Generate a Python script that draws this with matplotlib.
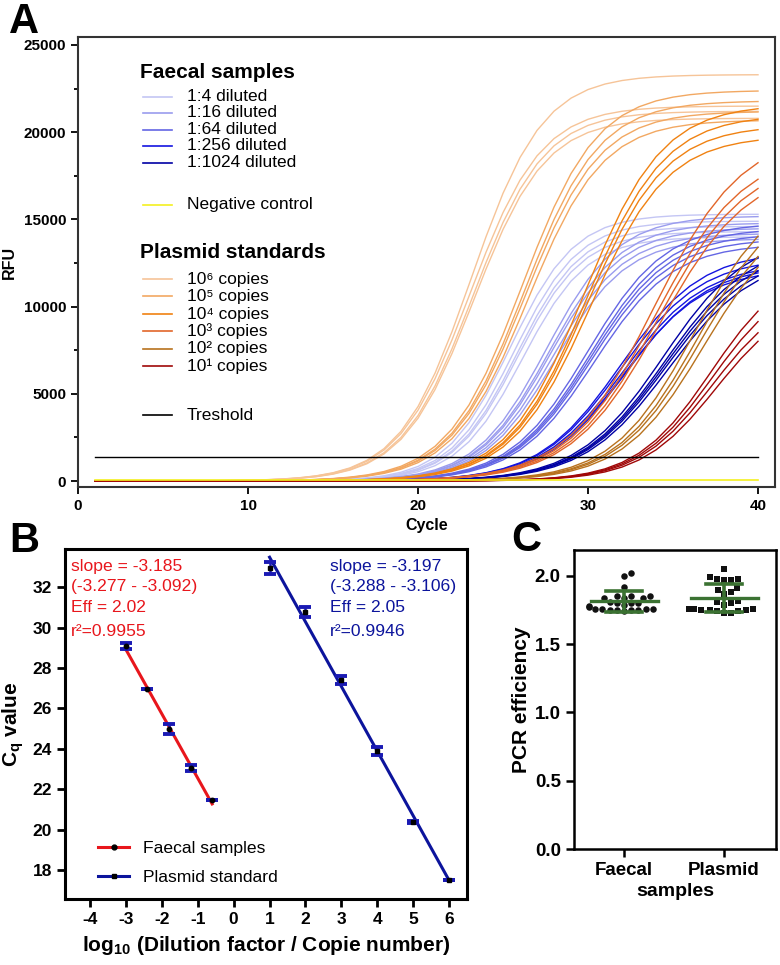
import numpy as np
import matplotlib
matplotlib.use("Agg")
import matplotlib.pyplot as plt
from matplotlib.lines import Line2D

plt.rcParams['font.family'] = ['Liberation Sans', 'DejaVu Sans']
plt.rcParams['mathtext.fontset'] = 'custom'
plt.rcParams['mathtext.rm'] = 'Liberation Sans'
plt.rcParams['mathtext.bf'] = 'Liberation Sans:bold'
plt.rcParams['mathtext.it'] = 'Liberation Sans:italic'
plt.rcParams['axes.unicode_minus'] = False

# ------------------ PANEL A DATA (amplification curves) ------------------
cycles = np.arange(1, 41)
threshold = 1360
neg_level = 30

faecal_labels = ["1:4 diluted", "1:16 diluted", "1:64 diluted", "1:256 diluted", "1:1024 diluted"]
faecal_colors = ["#c4c6f4", "#9a9cee", "#6466e4", "#1414e0", "#0000a4"]
# threshold cycle and plateau of each well
faecal_cq = [[21.0, 21.3, 21.5, 21.6, 21.9],
             [22.7, 22.9, 23.0, 23.2, 23.4],
             [24.7, 24.9, 25.0, 25.1, 25.3],
             [26.7, 26.8, 27.0, 27.1, 27.2],
             [28.8, 29.0, 29.1, 29.2, 29.4]]
faecal_plateau = [[15300, 14900, 14600, 14300, 14000],
                  [15200, 14800, 14500, 14200, 13900],
                  [14800, 14500, 14200, 13900, 13600],
                  [13200, 12800, 12500, 12200, 12400],
                  [14200, 13700, 13400, 13100, 12900]]
faecal_k = [1.9, 2.1, 2.3, 2.4, 2.5]

plasmid_labels = ["10⁶ copies", "10⁵ copies", "10⁴ copies",
                  "10³ copies", "10² copies", "10¹ copies"]
plasmid_colors = ["#f6c498", "#f2a862", "#f08212", "#e2662a", "#b8721e", "#a00808"]
plasmid_cq = [[17.3, 17.4, 17.6, 17.7],
              [20.1, 20.3, 20.4, 20.6],
              [23.6, 23.8, 23.9, 24.1],
              [27.1, 27.3, 27.5, 27.7],
              [30.4, 30.7, 30.9, 31.2],
              [32.6, 32.8, 33.0, 33.3]]
plasmid_plateau = [[23300, 21500, 21200, 20800],
                   [22400, 21800, 21200, 20700],
                   [21600, 21000, 20400, 19800],
                   [20000, 19000, 18500, 18000],
                   [17000, 16500, 16000, 15500],
                   [12500, 11800, 11000, 10600]]
plasmid_k = [2.1, 2.2, 2.3, 2.6, 2.4, 2.2]

# ------------------ PANEL B DATA (standard curves) ------------------
faecal_logdil = [-3.01, -2.41, -1.81, -1.2, -0.6]
faecal_cq_mean = [29.1, 26.95, 25.0, 23.05, 21.45]
faecal_cq_sd = [0.15, 0.0, 0.25, 0.15, 0.0]
plasmid_logcopies = [1, 2, 3, 4, 5, 6]
plasmid_cq_mean = [32.95, 30.8, 27.41, 23.9, 20.38, 17.5]
plasmid_cq_sd = [0.3, 0.25, 0.2, 0.2, 0.05, 0.0]
faecal_stats = ["slope = -3.185", "(-3.277 - -3.092)", "Eff = 2.02", "r²=0.9955"]
plasmid_stats = ["slope = -3.197", "(-3.288 - -3.106)", "Eff = 2.05", "r²=0.9946"]

# ------------------ PANEL C DATA (efficiencies) ------------------
eff_groups = ["Faecal", "Plasmid"]
faecal_eff = [2.02, 2.00, 1.92, 1.85, 1.84, 1.85, 1.84, 1.84, 1.85, 1.80, 1.81, 1.80, 1.80,
              1.79, 1.76, 1.75, 1.76, 1.75, 1.75, 1.76, 1.74, 1.75, 1.76, 1.78, 1.77]
plasmid_eff = [2.05, 1.99, 1.98, 1.97, 1.98, 1.97, 1.91, 1.90, 1.88, 1.87, 1.82, 1.79,
               1.80, 1.81, 1.76, 1.75, 1.75, 1.74, 1.75, 1.74, 1.76, 1.76, 1.73, 1.73]

RED = "#e8161c"
NAVY = "#0c149c"
GREEN = "#3b7232"


def amp_curve(cq, fmax, k):
    c0 = cq + k * np.log(fmax / threshold - 1)
    return fmax / (1 + np.exp(-(cycles - c0) / k))


def bold_ticks(ax, size):
    ax.tick_params(labelsize=size)
    for t in ax.get_xticklabels() + ax.get_yticklabels():
        t.set_fontweight('bold')


def swarm(values, xd, yd):
    # simple beeswarm: put each point at the nearest free slot
    order = np.argsort(values)
    placed = []
    offs = np.zeros(len(values))
    cands = [0.0]
    for s in range(1, 30):
        cands += [s * 0.012, -s * 0.012]
    for i in order:
        v = values[i]
        for c in cands:
            if all(((c - px) / xd) ** 2 + ((v - py) / yd) ** 2 >= 1 for px, py in placed):
                break
        placed.append((c, v))
        offs[i] = c
    return offs


fig = plt.figure(figsize=(7.8, 9.65), dpi=100)

# ======================= A =======================
axA = fig.add_axes([0.1, 0.4953, 0.8936, 0.4664])
for grp in range(len(faecal_cq)):
    for cq, fm in zip(faecal_cq[grp], faecal_plateau[grp]):
        axA.plot(cycles, amp_curve(cq, fm, faecal_k[grp]), color=faecal_colors[grp], lw=1.0)
for grp in range(len(plasmid_cq)):
    for cq, fm in zip(plasmid_cq[grp], plasmid_plateau[grp]):
        axA.plot(cycles, amp_curve(cq, fm, plasmid_k[grp]), color=plasmid_colors[grp], lw=1.0)
axA.plot(cycles, np.full(len(cycles), neg_level), color="#f4f020", lw=1.2)
axA.plot(cycles, np.full(len(cycles), threshold), color="black", lw=1.0)

axA.set_xlim(0, 41)
axA.set_ylim(-345, 25460)
axA.set_xticks([0, 10, 20, 30, 40])
axA.set_yticks(range(0, 25001, 5000))
axA.set_yticks(range(0, 25001, 2500), minor=True)
axA.tick_params(which='both', direction='out', width=1.3, length=5)
axA.tick_params(which='minor', length=3)
bold_ticks(axA, 11)
for sp in axA.spines.values():
    sp.set_linewidth(1.5)
    sp.set_color("#333333")
axA.set_xlabel("Cycle", fontsize=11.5, fontweight='bold', labelpad=4)
axA.set_ylabel("RFU", fontsize=11.5, fontweight='bold')
axA.yaxis.set_label_coords(-0.087, 0.5)

# custom legend
tr = axA.transAxes
hx = [0.0933, 0.135]
tx = 0.156
axA.text(0.089, 0.922, "Faecal samples", transform=tr, fontsize=15, fontweight='bold', va='center')
for lab, col, yy in zip(faecal_labels, faecal_colors, [0.8667, 0.8311, 0.7933, 0.7578, 0.72]):
    axA.plot(hx, [yy, yy], color=col, lw=1.2, transform=tr)
    axA.text(tx, yy, lab, transform=tr, fontsize=12.5, va='center')
axA.plot(hx, [0.6267, 0.6267], color="#f4f020", lw=1.2, transform=tr)
axA.text(tx, 0.6267, "Negative control", transform=tr, fontsize=12.5, va='center')
axA.text(0.089, 0.5222, "Plasmid standards", transform=tr, fontsize=15, fontweight='bold', va='center')
for lab, col, yy in zip(plasmid_labels, plasmid_colors, [0.4622, 0.4244, 0.3844, 0.3467, 0.3067, 0.2689]):
    axA.plot(hx, [yy, yy], color=col, lw=1.2, transform=tr)
    axA.text(tx, yy, lab, transform=tr, fontsize=12.5, va='center')
axA.plot(hx, [0.16, 0.16], color="black", lw=1.2, transform=tr)
axA.text(tx, 0.16, "Treshold", transform=tr, fontsize=12.5, va='center')

# ======================= B =======================
axB = fig.add_axes([0.0833, 0.0684, 0.5154, 0.3627])
fx = np.array(faecal_logdil)
fy = np.array(faecal_cq_mean)
px = np.array(plasmid_logcopies, dtype=float)
py = np.array(plasmid_cq_mean)
fslope, fint = np.polyfit(fx, fy, 1)
pslope, pint = np.polyfit(px, py, 1)
fline = np.array([fx.min(), fx.max()])
pline = np.array([px.min(), px.max()])
axB.plot(fline, fslope * fline + fint, color=RED, lw=2.2, zorder=2)
axB.plot(pline, pslope * pline + pint, color=NAVY, lw=2.2, zorder=2)
axB.errorbar(fx, fy, yerr=faecal_cq_sd, fmt='none', ecolor="#1a1ab4", elinewidth=1.8,
             capsize=4.5, capthick=2.8, zorder=3)
axB.errorbar(px, py, yerr=plasmid_cq_sd, fmt='none', ecolor="#1a1ab4", elinewidth=1.8,
             capsize=4.5, capthick=2.8, zorder=3)
axB.plot(fx, fy, 'o', color='black', markersize=3.2, zorder=4)
axB.plot(px, py, 's', color='black', markersize=3.2, zorder=4)

h1 = Line2D([], [], color=RED, lw=2.2, marker='o', markersize=3.5, markerfacecolor='black',
            markeredgecolor='black')
h2 = Line2D([], [], color=NAVY, lw=2.2, marker='s', markersize=3.5, markerfacecolor='black',
            markeredgecolor='black')
axB.legend([h1, h2], ["Faecal samples", "Plasmid standard"], loc='lower left',
           bbox_to_anchor=(0.083, 0.039), frameon=False, fontsize=12.6, handlelength=1.75,
           handletextpad=0.8, labelspacing=0.8, borderpad=0, borderaxespad=0)

for i, s in enumerate(faecal_stats):
    axB.text(0.015, [0.9486, 0.8914, 0.834, 0.7629][i], s, color=RED, fontsize=12.6,
             transform=axB.transAxes, va='center')
for i, s in enumerate(plasmid_stats):
    axB.text(0.659, [0.9486, 0.8914, 0.834, 0.7629][i], s, color=NAVY, fontsize=12.6,
             transform=axB.transAxes, va='center')

axB.set_xlim(-4.7, 6.5)
axB.set_ylim(16.56, 33.9)
axB.set_xticks(range(-4, 7))
axB.set_yticks(range(18, 33, 2))
axB.tick_params(direction='out', width=2, length=6)
bold_ticks(axB, 12.5)
for sp in axB.spines.values():
    sp.set_linewidth(2.2)
axB.set_xlabel(r"log$_\mathbf{10}$ (Dilution factor / Copie number)", fontsize=15,
               fontweight='bold', labelpad=5)
axB.set_ylabel(r"C$_\mathbf{q}$ value", fontsize=15, fontweight='bold')
axB.yaxis.set_label_coords(-0.097, 0.5)

# ======================= C =======================
axC = fig.add_axes([0.7359, 0.1202, 0.259, 0.3098])
for xi, (vals, mk) in enumerate(zip([faecal_eff, plasmid_eff], ['o', 's'])):
    v = np.array(vals)
    off = swarm(v, 0.072, 0.05)
    axC.scatter(xi + off, v, marker=mk, s=22, color='#111111', zorder=3, linewidths=0)
    m = v.mean()
    sd = v.std(ddof=1)
    axC.plot([xi - 0.335, xi + 0.335], [m, m], color=GREEN, lw=2.4, zorder=4)
    axC.plot([xi, xi], [m - sd, m + sd], color=GREEN, lw=2.6, zorder=4)
    for yy in [m - sd, m + sd]:
        axC.plot([xi - 0.18, xi + 0.18], [yy, yy], color=GREEN, lw=2.6, zorder=4)
axC.set_xlim(-0.5, 1.52)
axC.set_ylim(0, 2.19)
axC.set_xticks([0, 1])
axC.set_xticklabels(eff_groups)
axC.set_yticks([0.0, 0.5, 1.0, 1.5, 2.0])
axC.set_yticklabels(["%.1f" % t for t in [0.0, 0.5, 1.0, 1.5, 2.0]])
axC.tick_params(direction='out', width=1.8, length=6)
bold_ticks(axC, 13.5)
for sp in axC.spines.values():
    sp.set_linewidth(1.8)
axC.set_xlabel("samples", fontsize=14, fontweight='bold', labelpad=3)
axC.set_ylabel("PCR efficiency", fontsize=15, fontweight='bold')
axC.yaxis.set_label_coords(-0.215, 0.5)

# panel letters
fig.text(0.012, 1 - 33 / 965, "A", fontsize=30, fontweight='bold', va='baseline')
fig.text(0.012, 1 - 552 / 965, "B", fontsize=30, fontweight='bold', va='baseline')
fig.text(0.655, 1 - 551 / 965, "C", fontsize=30, fontweight='bold', va='baseline')

fig.savefig("out.png", dpi=100)
